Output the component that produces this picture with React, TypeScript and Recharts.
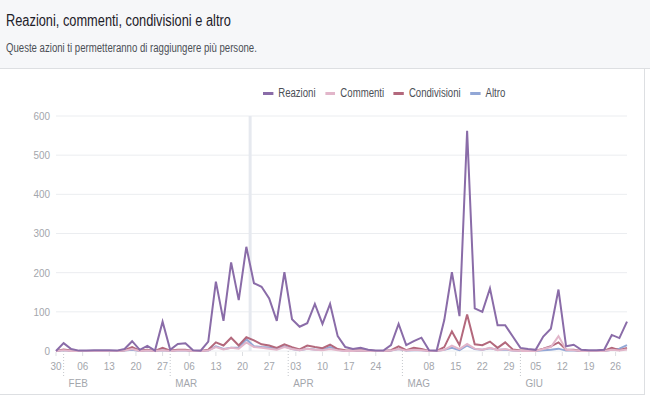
import React from 'react';
import { LineChart, Line, XAxis, YAxis, CartesianGrid, Legend, ReferenceLine } from 'recharts';

// one value every two days, from 30 Jan to 29 Jun
const reazioni = [
  0, 20, 5, 1, 1, 2, 2, 2, 1, 5, 25, 3, 13, 1, 75, 3, 18, 20, 2, 1,
  24, 177, 77, 226, 130, 266, 173, 164, 134, 77, 201, 81, 62, 71, 120, 69, 120, 38, 10, 5,
  8, 3, 1, 1, 15, 69, 15, 25, 34, 2, 1, 79, 201, 89, 562, 109, 100, 160, 66, 66,
  37, 8, 5, 3, 37, 57, 157, 12, 16, 3, 2, 2, 3, 41, 33, 75,
];
const commenti = [
  0, 2, 0, 0, 0, 0, 0, 0, 0, 1, 5, 0, 1, 0, 2, 0, 1, 1, 0, 0,
  1, 10, 4, 8, 6, 22, 10, 8, 6, 3, 10, 5, 2, 6, 3, 2, 5, 2, 0, 0,
  1, 0, 0, 0, 1, 5, 1, 3, 2, 0, 0, 3, 14, 5, 18, 6, 3, 8, 2, 5,
  1, 0, 0, 0, 5, 10, 38, 3, 2, 0, 0, 0, 0, 3, 1, 4,
];
const condivisioni = [
  0, 4, 1, 0, 0, 0, 0, 0, 0, 2, 10, 1, 3, 0, 8, 1, 3, 3, 0, 0,
  3, 22, 14, 34, 14, 35, 27, 17, 14, 8, 17, 10, 4, 14, 10, 7, 16, 5, 2, 1,
  2, 1, 0, 0, 2, 12, 2, 8, 5, 0, 0, 10, 50, 15, 93, 17, 15, 24, 8, 22,
  4, 1, 1, 1, 6, 12, 22, 4, 3, 0, 0, 0, 1, 8, 2, 8,
];
const altro = [
  0, 2, 0, 0, 0, 0, 0, 0, 0, 1, 3, 0, 1, 0, 2, 0, 1, 1, 0, 0,
  1, 12, 5, 8, 8, 30, 12, 10, 9, 5, 12, 5, 2, 6, 4, 3, 10, 3, 0, 0,
  1, 0, 0, 0, 1, 5, 1, 2, 2, 0, 0, 3, 8, 2, 14, 5, 3, 7, 3, 4,
  1, 0, 0, 0, 2, 3, 6, 1, 1, 0, 0, 0, 0, 3, 6, 15,
];

// days since 30 Jan
const dayOffsets = reazioni.map((_, i) => i * 2);

const weekTicks = [0, 7, 14, 21, 28, 35, 42, 49, 56, 63, 70, 77, 84, 98, 105, 112, 119, 126, 133, 140, 147];
const weekLabels = ['30', '06', '13', '20', '27', '06', '13', '20', '27', '03', '10', '17', '24', '08', '15', '22', '29', '05', '12', '19', '26'];
const monthTicks = [2, 30, 61, 91, 122];
const monthLabels = ['FEB', 'MAR', 'APR', 'MAG', 'GIU'];
const yTicks = [0, 100, 200, 300, 400, 500, 600];
const hoverDay = 51;

const series = [
  { key: 'reazioni', name: 'Reazioni', color: '#8a6ca8' },
  { key: 'commenti', name: 'Commenti', color: '#e2b6ca' },
  { key: 'condivisioni', name: 'Condivisioni', color: '#b3687c' },
  { key: 'altro', name: 'Altro', color: '#92a7d6' },
];

const data = dayOffsets.map((day, i) => ({
  day,
  reazioni: reazioni[i],
  commenti: commenti[i],
  condivisioni: condivisioni[i],
  altro: altro[i],
}));

const FONT = "'Liberation Sans', Arial, sans-serif";
const GREY = '#a3a6ac';
const NARROW = 0.8; // the reference uses a narrow face

function DateTick(props: any) {
  const { x, y, payload } = props;
  const m = monthTicks.indexOf(payload.value);
  if (m >= 0) {
    return (
      <g>
        <line x1={x} x2={x} y1={y} y2={y + 27} stroke="#c4c7cc" strokeDasharray="1 2" />
        <text transform={`translate(${x + 5},${y + 36}) scale(0.9,1)`} fill={GREY} fontSize={11} fontFamily={FONT}>
          {monthLabels[m]}
        </text>
      </g>
    );
  }
  const w = weekTicks.indexOf(payload.value);
  return (
    <g>
      <line x1={x} x2={x} y1={y + 1} y2={y + 5} stroke="#dddfe2" />
      <text transform={`translate(${x},${y + 19}) scale(0.9,1)`} fill={GREY} fontSize={11} fontFamily={FONT} textAnchor="middle">
        {weekLabels[w]}
      </text>
    </g>
  );
}

function ValueTick(props: any) {
  const { x, y, payload } = props;
  return (
    <text transform={`translate(${x},${y}) scale(0.9,1)`} dy="0.355em" fill={GREY} fontSize={11} fontFamily={FONT} textAnchor="end">
      {payload.value}
    </text>
  );
}

const renderLegend = () => (
  <div style={{ position: 'relative', height: 0 }}>
    <div
      style={{
        position: 'absolute', left: 263, top: 85, display: 'flex', fontFamily: FONT, fontSize: 12, lineHeight: '16px',
        color: '#4b4f56', whiteSpace: 'nowrap', transform: `scaleX(${NARROW})`, transformOrigin: '0 0',
      }}
    >
      {series.map((s) => (
        <div key={s.key} style={{ display: 'flex', alignItems: 'center', marginRight: 12 }}>
          <span style={{ display: 'inline-block', width: 12.5, height: 3, background: s.color, marginRight: 6.5 }} />
          <span>{s.name}</span>
        </div>
      ))}
    </div>
  </div>
);

export default function App() {
  return (
    <div style={{ position: 'absolute', left: 0, top: 0, width: 650, height: 397, background: '#fff', fontFamily: FONT, overflow: 'hidden' }}>
      <div style={{ position: 'absolute', left: 0, top: 0, width: 650, height: 68, background: '#f6f7f9', borderBottom: '1px solid #dddfe2' }}>
        <div style={{ position: 'absolute', left: 6, top: 11, fontSize: 16, lineHeight: '20px', color: '#1d2129', whiteSpace: 'nowrap', transform: `scaleX(${NARROW})`, transformOrigin: '0 0' }}>
          Reazioni, commenti, condivisioni e altro
        </div>
        <div style={{ position: 'absolute', left: 6, top: 40, fontSize: 12, lineHeight: '16px', color: '#4b4f56', whiteSpace: 'nowrap', transform: `scaleX(${NARROW})`, transformOrigin: '0 0' }}>
          Queste azioni ti permetteranno di raggiungere più persone.
        </div>
      </div>
      <div style={{ position: 'absolute', left: 0, top: 69, width: 644, height: 325, borderRight: '1px solid #dddfe2', borderBottom: '1px solid #dddfe2' }} />
      <div style={{ position: 'absolute', left: 0, top: 0 }}>
        <LineChart width={650} height={397} data={data} margin={{ top: 116, right: 23, bottom: 16, left: 6 }}>
          <CartesianGrid horizontal vertical={false} stroke="#ebedf0" />
          <ReferenceLine x={hoverDay} stroke="#e6e9ef" strokeWidth={3} />
          <XAxis
            dataKey="day"
            type="number"
            domain={[0, 150]}
            ticks={[...weekTicks, ...monthTicks].sort((a, b) => a - b)}
            interval={0}
            tick={<DateTick />}
            tickLine={false}
            axisLine={false}
            tickSize={0}
            tickMargin={0}
            height={30}
          />
          <YAxis
            domain={[0, 600]}
            ticks={yTicks}
            width={50}
            axisLine={false}
            tickLine={false}
            tickSize={0}
            tickMargin={6}
            tick={<ValueTick />}
          />
          <Legend content={renderLegend} wrapperStyle={{ left: 0, top: 0, width: 650, height: 0 }} />
          {[...series].reverse().map((s) => (
            <Line
              key={s.key}
              dataKey={s.key}
              name={s.name}
              stroke={s.color}
              strokeWidth={2}
              dot={false}
              activeDot={false}
              type="linear"
              isAnimationActive={false}
            />
          ))}
        </LineChart>
      </div>
    </div>
  );
}
